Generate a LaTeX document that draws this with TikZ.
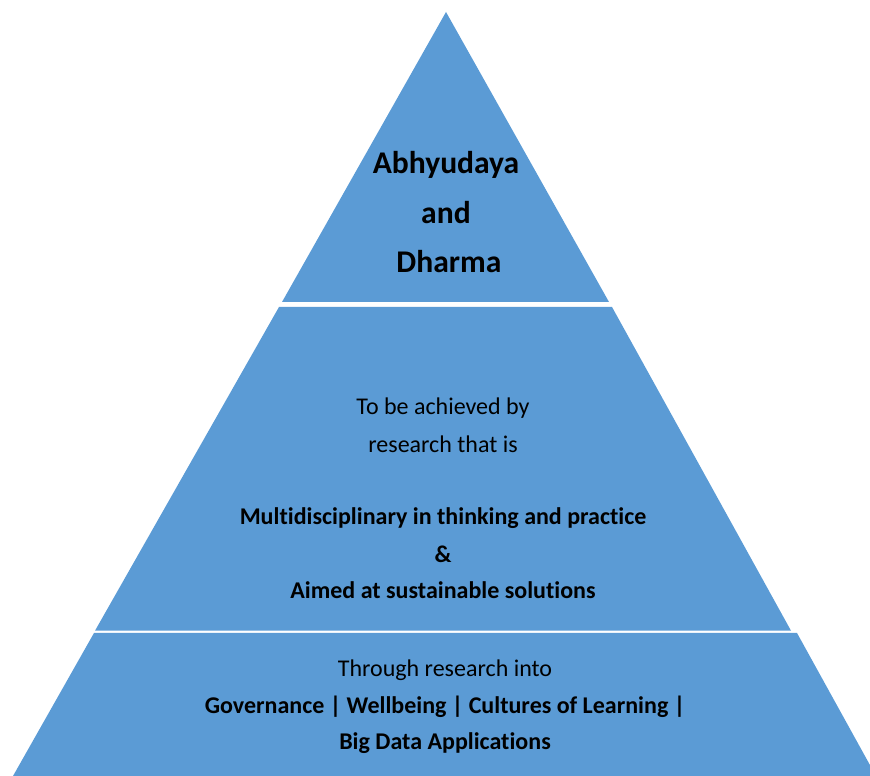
\documentclass[tikz,border=0pt]{standalone}
\usepackage{fontspec}
\setmainfont[Ligatures=NoCommon]{Carlito}
\definecolor{pyrblue}{HTML}{5B9BD5}
\begin{document}
\begin{tikzpicture}[x=1pt,y=1pt,
  layer/.style={fill=pyrblue,draw=none},
  big/.style={font=\fontsize{31.6}{36}\selectfont\bfseries,align=center,inner sep=0pt},
  txt/.style={font=\fontsize{24}{29}\selectfont,align=center,inner sep=0pt},
  btxt/.style={font=\fontsize{24}{29}\selectfont\bfseries,align=center,inner sep=0pt}]
\useasboundingbox (0,0) rectangle (870,776);
\clip (0,0) rectangle (870,776);
% pyramid layers (y = 776 - pixel row)
\fill[layer] (446,764) -- (609,474) -- (282,474) -- cycle;
\fill[layer] (279,469) -- (612,469) -- (791,145.3) -- (95,145.3) -- cycle;
\fill[layer] (94,143) -- (797,143) -- (876,0) -- (13,0) -- cycle;
% top
\node[big] (t1) at (446,611) {Abhyudaya};
\node[big] (t2) at (446,563) {and};
\node[big] (t3) at (449,514) {Dharma};
% middle
\node[txt] (m1) at (443,368) {To be achieved by};
\node[txt] (m2) at (443,332) {research that is};
\node[btxt] (m3) at (443,258) {Multidisciplinary in thinking and practice};
\node[btxt] (m4) at (443,222) {\&};
\node[btxt] (m5) at (443,186) {Aimed at sustainable solutions};
% bottom
\node[txt] (b1) at (445,106) {Through research into};
\node[btxt] (b2) at (445,69) {Governance | Wellbeing | Cultures of Learning |};
\node[btxt] (b3) at (445,33) {Big Data Applications};
\end{tikzpicture}
\end{document}
